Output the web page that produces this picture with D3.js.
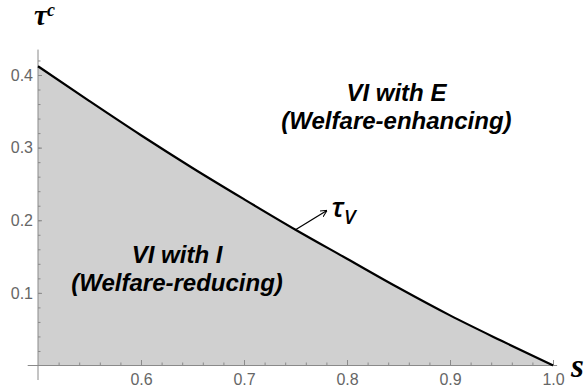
<!DOCTYPE html>
<html>
<head>
<meta charset="utf-8">
<script src="https://cdn.jsdelivr.net/npm/d3@7"></script>
<style>
  html, body { margin: 0; padding: 0; background: #fff; }
  svg { display: block; }
</style>
</head>
<body>
<svg id="chart" width="587" height="390"></svg>
<script>
// Threshold curve tau_V(s): share s on the horizontal axis, tau^c on the vertical.
const sValues   = [0.50, 0.55, 0.60, 0.65, 0.70, 0.75, 0.80, 0.85, 0.90, 0.95, 1.00];
const tauValues = [0.412, 0.364, 0.317, 0.272, 0.229, 0.187, 0.147, 0.107, 0.069, 0.034, 0.000];

const xMajorTicks = [0.6, 0.7, 0.8, 0.9, 1.0];
const yMajorTicks = [0.1, 0.2, 0.3, 0.4];
const xMinorTicks = d3.range(26).map(i => 0.5 + i * 0.02).filter(v => v > 0.501);
const yMinorTicks = d3.range(22).map(i => i * 0.02).filter(v => v > 0.001);

const regionLabels = [
  { lines: ["VI with E", "(Welfare-enhancing)"], s: 0.848, tau: 0.364 },
  { lines: ["VI with I", "(Welfare-reducing)"],  s: 0.635, tau: 0.141 }
];
const curveLabelAt = 0.75;   // s where the tau_V pointer touches the curve

const data = sValues.map((s, i) => ({ s, tau: tauValues[i] }));

const svg = d3.select("#chart");
const x = d3.scaleLinear().domain([0.5, 1.0]).range([38, 553]);
const y = d3.scaleLinear().domain([0, 0.4]).range([365.5, 75]);

const axisColor = "#8a8a8a";
const labelColor = "#666";
const sansFont = "'Liberation Sans', Arial, sans-serif";

// Shaded region under the curve
const area = d3.area()
  .x(d => x(d.s))
  .y0(y(0))
  .y1(d => y(d.tau))
  .curve(d3.curveMonotoneX);
svg.append("path")
  .datum(data)
  .attr("d", area)
  .attr("fill", "#d0d0d0");

// Axis lines (slight overshoot past the origin)
svg.append("line")
  .attr("x1", x(0.5)).attr("x2", x(0.5))
  .attr("y1", y(-0.02)).attr("y2", y(0.435))
  .attr("stroke", axisColor).attr("stroke-width", 1);
svg.append("line")
  .attr("x1", x(0.49)).attr("x2", x(1.004))
  .attr("y1", y(0)).attr("y2", y(0))
  .attr("stroke", axisColor).attr("stroke-width", 1);

// Minor ticks
svg.append("g")
  .attr("transform", `translate(0,${y(0)})`)
  .call(d3.axisBottom(x).tickValues(xMinorTicks).tickSizeInner(-3).tickSizeOuter(0).tickFormat(""))
  .call(g => g.select(".domain").remove())
  .call(g => g.selectAll("line").attr("stroke", axisColor));
svg.append("g")
  .attr("transform", `translate(${x(0.5)},0)`)
  .call(d3.axisLeft(y).tickValues(yMinorTicks).tickSizeInner(-2.5).tickSizeOuter(0).tickFormat(""))
  .call(g => g.select(".domain").remove())
  .call(g => g.selectAll("line").attr("stroke", axisColor));

// Major ticks with labels
svg.append("g")
  .attr("transform", `translate(0,${y(0)})`)
  .call(d3.axisBottom(x).tickValues(xMajorTicks).tickSizeInner(-5.5).tickSizeOuter(0)
    .tickPadding(8).tickFormat(d3.format(".1f")))
  .call(g => g.select(".domain").remove())
  .call(g => g.selectAll("line").attr("stroke", axisColor))
  .call(g => g.selectAll("text").attr("fill", labelColor)
    .attr("font-family", sansFont).attr("font-size", 16));
svg.append("g")
  .attr("transform", `translate(${x(0.5)},0)`)
  .call(d3.axisLeft(y).tickValues(yMajorTicks).tickSizeInner(-4).tickSizeOuter(0)
    .tickPadding(5).tickFormat(d3.format(".1f")))
  .call(g => g.select(".domain").remove())
  .call(g => g.selectAll("line").attr("stroke", axisColor))
  .call(g => g.selectAll("text").attr("fill", labelColor)
    .attr("font-family", sansFont).attr("font-size", 16));

// The curve itself
const line = d3.line()
  .x(d => x(d.s))
  .y(d => y(d.tau))
  .curve(d3.curveMonotoneX);
svg.append("path")
  .datum(data)
  .attr("d", line)
  .attr("fill", "none")
  .attr("stroke", "#000")
  .attr("stroke-width", 2.2);

// Axis titles
const serif = "'Liberation Serif', 'Times New Roman', serif";
const yTitle = svg.append("text")
  .attr("x", 34).attr("y", 25)
  .attr("font-family", serif).attr("font-weight", "bold").attr("font-style", "italic")
  .attr("font-size", 29).attr("fill", "#000");
yTitle.append("tspan").text("τ");
yTitle.append("tspan").attr("font-size", 18).attr("dy", -9).text("c");

svg.append("text")
  .attr("x", 571).attr("y", 377)
  .attr("font-family", serif).attr("font-weight", "bold").attr("font-style", "italic")
  .attr("font-size", 33).attr("fill", "#000")
  .text("s");

// Region labels
regionLabels.forEach(r => {
  const t = svg.append("text")
    .attr("text-anchor", "middle")
    .attr("font-family", sansFont).attr("font-weight", "bold").attr("font-style", "italic")
    .attr("font-size", 24).attr("fill", "#000");
  r.lines.forEach((ln, i) => {
    t.append("tspan")
      .attr("x", x(r.s))
      .attr("y", y(r.tau) + i * 28)
      .text(ln);
  });
});

// Pointer to the curve with its label
const defs = svg.append("defs");
defs.append("marker")
  .attr("id", "arrowhead")
  .attr("viewBox", "0 0 10 10")
  .attr("refX", 9).attr("refY", 5)
  .attr("markerWidth", 7).attr("markerHeight", 7)
  .attr("markerUnits", "userSpaceOnUse")
  .attr("orient", "auto")
  .append("path")
  .attr("d", "M0,0 L10,5 L0,10")
  .attr("fill", "none").attr("stroke", "#000").attr("stroke-width", 1.5);

const tauAt = d3.scaleLinear().domain(sValues).range(tauValues);
const px0 = x(curveLabelAt), py0 = y(tauAt(curveLabelAt));
svg.append("line")
  .attr("x1", px0).attr("y1", py0)
  .attr("x2", px0 + 31).attr("y2", py0 - 19)
  .attr("stroke", "#000").attr("stroke-width", 1.3)
  .attr("marker-end", "url(#arrowhead)");

const tv = svg.append("text")
  .attr("x", px0 + 36).attr("y", py0 - 13)
  .attr("font-family", "'Open Sans', 'DejaVu Sans', sans-serif").attr("font-style", "italic")
  .attr("font-weight", 600)
  .attr("font-size", 27).attr("fill", "#000");
tv.append("tspan").text("τ");
tv.append("tspan").attr("font-size", 20).attr("dy", 7).text("V");
</script>
</body>
</html>
